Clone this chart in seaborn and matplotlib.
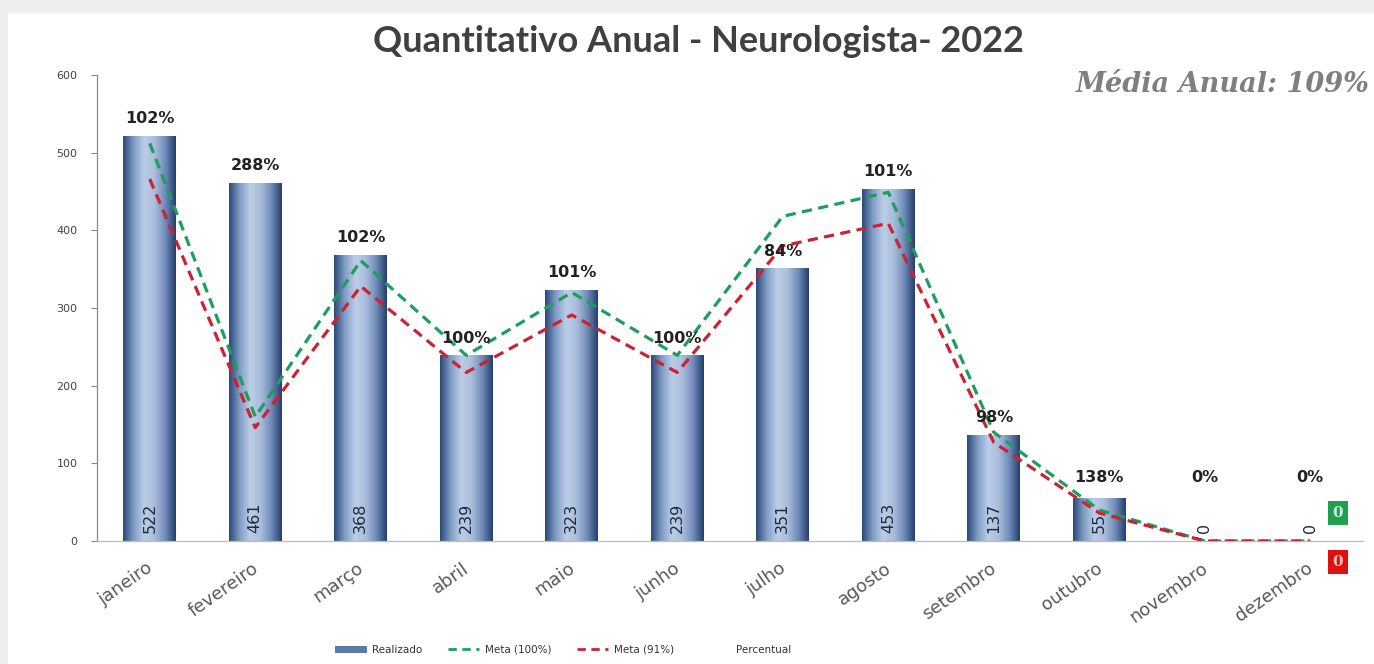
import numpy as np
import pandas as pd
import matplotlib
matplotlib.use("Agg")
import matplotlib.pyplot as plt
import matplotlib.transforms as mtransforms
import seaborn as sns
from matplotlib.colors import LinearSegmentedColormap
from matplotlib.patches import Rectangle, Patch
from matplotlib.lines import Line2D

# ---- data ----
meses = ["janeiro", "fevereiro", "março", "abril", "maio", "junho",
         "julho", "agosto", "setembro", "outubro", "novembro", "dezembro"]
realizado = [522, 461, 368, 239, 323, 239, 351, 453, 137, 55, 0, 0]
meta_100 = [512, 160, 361, 239, 320, 239, 418, 449, 140, 40, 0, 0]
meta_91 = [466, 146, 328, 217, 291, 217, 380, 409, 127, 36, 0, 0]
percentual = [102, 288, 102, 100, 101, 100, 84, 101, 98, 138, 0, 0]
yticks = [0, 100, 200, 300, 400, 500, 600]
titulo = "Quantitativo Anual - Neurologista- 2022"
media_anual = "Média Anual: 109%"

df = pd.DataFrame({"mes": meses, "realizado": realizado,
                   "meta100": meta_100, "meta91": meta_91})

sns.set_theme(style="white")
plt.rcParams["font.family"] = ["DejaVu Sans"]

fig = plt.figure(figsize=(13.74, 6.64), dpi=100, facecolor="#eeeeee")
fig.patches.append(Rectangle((8 / 1374, 0), 1, 1 - 13 / 664, transform=fig.transFigure,
                             facecolor="white", edgecolor="none", zorder=-10))
ax = fig.add_axes([97 / 1374, 1 - 541 / 664, 1266 / 1374, 466 / 664])
ax.set_facecolor("none")

sns.barplot(data=df, x="mes", y="realizado", order=meses, color="#4a6a9a",
            width=0.5, ax=ax, zorder=2)

# gradient fill for bars
cmap = LinearSegmentedColormap.from_list(
    "barg", ["#2a4878", "#7f9cc4", "#bccde6", "#a9bddb", "#6f8bb8", "#243e6c"])
grad = np.linspace(0, 1, 256).reshape(1, -1)
for p in ax.patches:
    x0, y0 = p.get_x(), p.get_y()
    w, h = p.get_width(), p.get_height()
    if h <= 0:
        continue
    p.set_facecolor("none")
    im = ax.imshow(grad, cmap=cmap, aspect="auto", extent=[x0, x0 + w, y0, y0 + h],
                   zorder=2, interpolation="bicubic")
    im.set_clip_path(p)

sns.lineplot(data=df, x="mes", y="meta100", sort=False, color="#1e9e5e",
             linewidth=2.3, ax=ax, zorder=4)
sns.lineplot(data=df, x="mes", y="meta91", sort=False, color="#cc2233",
             linewidth=2.3, ax=ax, zorder=4)
for ln in ax.lines:
    ln.set_linestyle((0, (3.2, 2)))

ax.set_xlim(-0.5, 11.5)
ax.set_ylim(0, 600)
ax.set_yticks(yticks)
ax.set_yticklabels([str(t) for t in yticks], fontsize=8, color="#444444")
ax.tick_params(axis="y", length=4, width=0.8, color="#888888", pad=10, left=True)
ax.tick_params(axis="x", length=0, pad=13)
ax.set_xticks(range(len(meses)))
ax.set_xticklabels(meses, rotation=35, ha="right", rotation_mode="anchor",
                   fontsize=13, color="#595959")
offset = mtransforms.ScaledTranslation(-4 / 100, 0, fig.dpi_scale_trans)
for lab in ax.get_xticklabels():
    lab.set_transform(lab.get_transform() + offset)
ax.set_xlabel("")
ax.set_ylabel("")
for s in ["top", "right"]:
    ax.spines[s].set_visible(False)
ax.spines["left"].set_color("#888888")
ax.spines["left"].set_linewidth(0.9)
ax.spines["bottom"].set_color("#bbbbbb")
ax.spines["bottom"].set_linewidth(0.9)

# labels
for i, (v, pc) in enumerate(zip(realizado, percentual)):
    ax.annotate(f"{pc}%", (i, max(v, 60)), xytext=(0, 7), textcoords="offset points",
                ha="center", va="bottom", fontsize=11.5, fontweight="bold",
                color="#222222", zorder=5)
    ax.annotate(f"{v}", (i, 0), xytext=(0, 6), textcoords="offset points",
                ha="center", va="bottom", rotation=90, fontsize=11.5,
                color="#1f2a40", zorder=5)

fig.text(0.508, 1 - 42 / 664, titulo, ha="center", va="center", fontsize=26,
         fontweight="bold", color="#404040", family="Lato")
fig.text(1370 / 1374, 1 - 85 / 664, media_anual, ha="right", va="center",
         fontsize=19.5, fontweight="bold", fontstyle="italic", color="#7f7f7f",
         family="DejaVu Serif")

# side boxes
fig.text(1338 / 1374, 1 - 513 / 664, "0", ha="center", va="center", fontsize=11,
         fontweight="bold", color="#c8f0d8", family="DejaVu Serif",
         bbox=dict(boxstyle="square,pad=0.3", facecolor="#1fa050", edgecolor="none"))
fig.text(1338 / 1374, 1 - 562 / 664, "0", ha="center", va="center", fontsize=11,
         fontweight="bold", color="#f4c0b0", family="DejaVu Serif",
         bbox=dict(boxstyle="square,pad=0.3", facecolor="#e01010", edgecolor="none"))

handles = [Patch(facecolor="#5a7aa8", edgecolor="none"),
           Line2D([], [], color="#1e9e5e", lw=2, ls=(0, (3, 2))),
           Line2D([], [], color="#cc2233", lw=2, ls=(0, (3, 2))),
           Line2D([], [], color="none")]
labels = ["Realizado", "Meta (100%)", "Meta (91%)", "Percentual"]
fig.legend(handles, labels, loc="center", bbox_to_anchor=(0.41, 1 - 650 / 664),
           ncol=4, frameon=False, fontsize=7.5, handlelength=3, columnspacing=2.5,
           handletextpad=0.5, labelcolor="#333333")

fig.savefig("out.png", dpi=100, facecolor=fig.get_facecolor())
